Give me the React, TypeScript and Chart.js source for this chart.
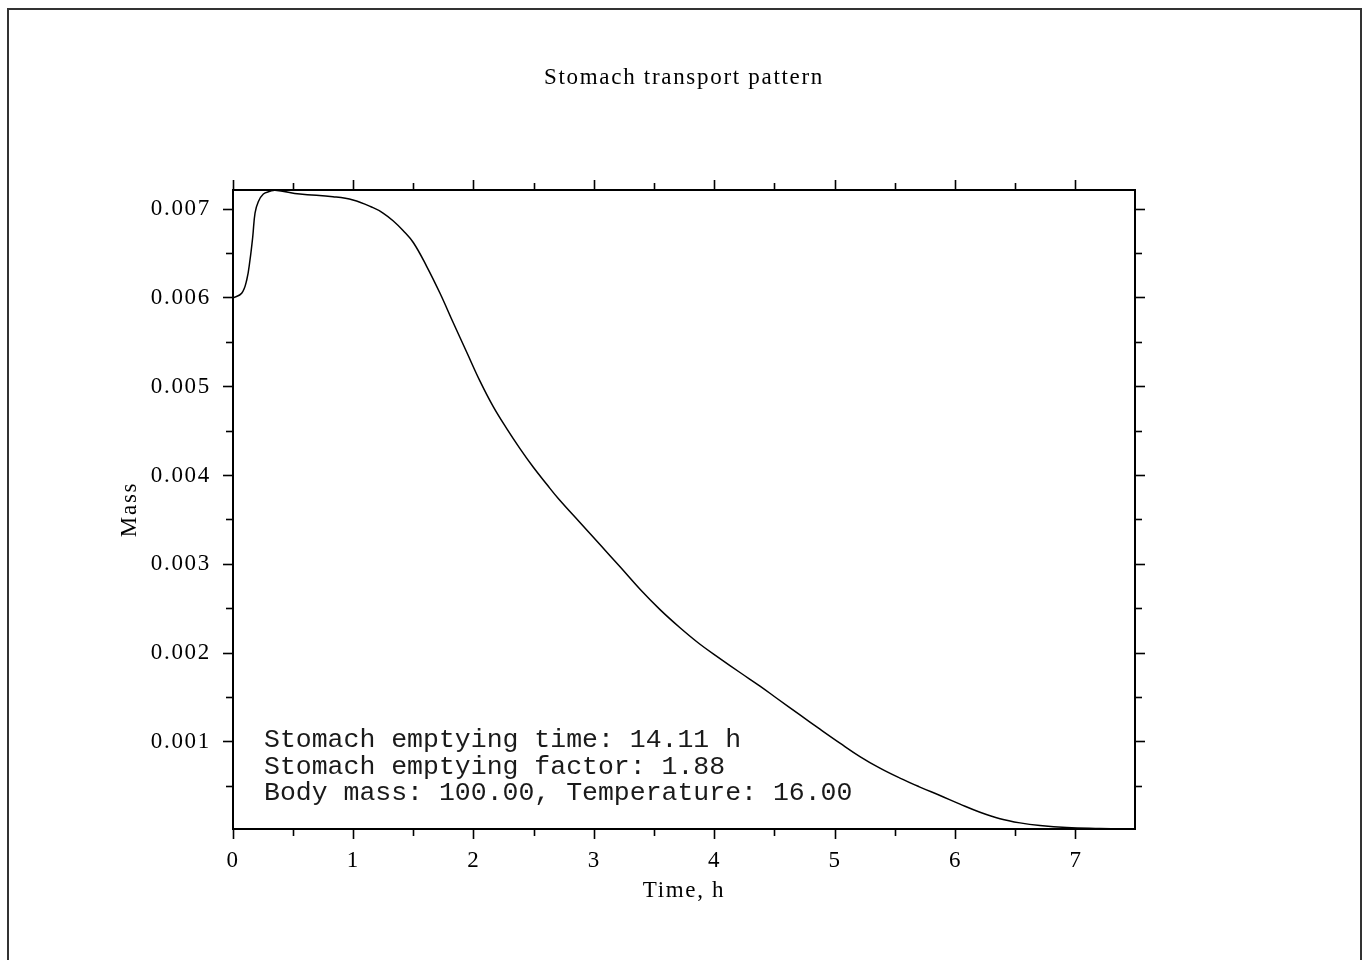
import React, { useEffect, useRef } from "react";
import { Chart, registerables } from "chart.js";

Chart.register(...registerables);

// ---- Data ----
const timeH = [
  0, 0.072, 0.114, 0.141, 0.164, 0.183, 0.21, 0.252, 0.307, 0.349, 0.556, 0.83, 0.996,
  1.163, 1.246, 1.329, 1.412, 1.497, 1.608, 1.719, 1.829, 1.941, 2.051, 2.161, 2.273,
  2.383, 2.494, 2.605, 2.701, 2.881, 3.047, 3.214, 3.38, 3.546, 3.712, 3.878, 4.044,
  4.21, 4.376, 4.515, 4.708, 4.874, 5.04, 5.206, 5.372, 5.538, 5.704, 5.871, 6.037,
  6.203, 6.369, 6.535, 6.701, 6.923, 7.199, 7.382,
];
const mass = [
  0.006, 0.006051, 0.006201, 0.006426, 0.006688, 0.006955, 0.007082, 0.007169, 0.007199,
  0.007212, 0.007169, 0.007138, 0.007101, 0.007015, 0.006955, 0.006868, 0.006758, 0.006623,
  0.006355, 0.006051, 0.005719, 0.005387, 0.005062, 0.004775, 0.004528, 0.004303, 0.004092,
  0.003901, 0.003741, 0.003471, 0.003223, 0.002972, 0.002719, 0.00249, 0.002286, 0.0021,
  0.001939, 0.001782, 0.001629, 0.001492, 0.001304, 0.001144, 0.000987, 0.000836, 0.000705,
  0.000593, 0.000492, 0.000397, 0.0003, 0.000209, 0.000136, 0.000089, 0.000059, 0.000036,
  0.000025, 0.00002,
];

const xMajorTicks = [0, 1, 2, 3, 4, 5, 6, 7];
const xMinorTicks = [0.5, 1.5, 2.5, 3.5, 4.5, 5.5, 6.5];
const yMajorTicks = [0.001, 0.002, 0.003, 0.004, 0.005, 0.006, 0.007];
const yMinorTicks = [0.0005, 0.0015, 0.0025, 0.0035, 0.0045, 0.0055, 0.0065];
const yTickLabels = ["0.001", "0.002", "0.003", "0.004", "0.005", "0.006", "0.007"];

const X_MIN = 0;
const X_MAX = 7.49;
const Y_MIN = 0.00002;
const Y_MAX = 0.007214;

const chartTitle = "Stomach transport pattern";
const xTitle = "Time, h";
const yTitle = "Mass";
const annotationLines = [
  "Stomach emptying time: 14.11 h",
  "Stomach emptying factor: 1.88",
  "Body mass: 100.00, Temperature: 16.00",
];

const SERIF = "'Liberation Serif', 'Times New Roman', serif";
const INK = "#000";

const framePlugin = {
  id: "framePlugin",
  beforeDraw(chart: any) {
    const ctx = chart.ctx;
    ctx.save();
    ctx.strokeStyle = "#333";
    ctx.lineWidth = 2;
    ctx.beginPath();
    ctx.moveTo(8, chart.height + 20);
    ctx.lineTo(8, 9);
    ctx.lineTo(1361, 9);
    ctx.lineTo(1361, chart.height + 20);
    ctx.stroke();
    ctx.restore();
    (ctx as any).letterSpacing = "1.7px";
  },
};

const annotationPlugin = {
  id: "annotationPlugin",
  afterDatasetsDraw(chart: any) {
    const ctx = chart.ctx;
    const area = chart.chartArea;
    ctx.save();
    (ctx as any).letterSpacing = "0px";
    ctx.font = "26.5px 'Liberation Mono', 'DejaVu Sans Mono', monospace";
    ctx.fillStyle = "#1a1a1a";
    ctx.textAlign = "left";
    ctx.textBaseline = "alphabetic";
    const x0 = area.left + 31;
    const baseline0 = area.bottom - 82;
    annotationLines.forEach((line, i) => {
      ctx.fillText(line, x0, baseline0 + i * 26.5);
    });
    ctx.restore();
  },
};

function majorAxis(position: string, weight: number, size: number, extra: any) {
  return {
    type: "linear",
    position,
    weight,
    afterFit: (s: any) => {
      if (position === "left" || position === "right") s.width = size;
      else s.height = size;
    },
    grid: {
      drawOnChartArea: false,
      drawTicks: true,
      tickLength: 10,
      tickWidth: 1.6,
      tickColor: INK,
    },
    border: { display: true, color: INK, width: 2 },
    ...extra,
  };
}

function minorAxis(position: string, ticks: number[], min: number, max: number) {
  return {
    type: "linear",
    position,
    weight: 0,
    min,
    max,
    afterBuildTicks: (s: any) => {
      s.ticks = ticks.map((v) => ({ value: v }));
    },
    afterFit: (s: any) => {
      if (position === "left" || position === "right") s.width = 0;
      else s.height = 0;
    },
    ticks: { display: false, autoSkip: false },
    grid: {
      drawOnChartArea: false,
      drawTicks: true,
      tickLength: 7,
      tickWidth: 1.6,
      tickColor: INK,
    },
    border: { display: false },
  };
}

export default function App() {
  const canvasRef = useRef<HTMLCanvasElement | null>(null);

  useEffect(() => {
    const canvas = canvasRef.current;
    if (!canvas) return;
    const points = timeH.map((t, i) => ({ x: t, y: mass[i] }));

    const chart = new Chart(canvas, {
      type: "line",
      data: {
        datasets: [
          {
            data: points,
            borderColor: INK,
            borderWidth: 1.5,
            pointRadius: 0,
            fill: false,
            tension: 0.4,
          } as any,
        ],
      },
      options: {
        animation: false,
        responsive: false,
        devicePixelRatio: 1,
        layout: { padding: 0 },
        plugins: {
          legend: { display: false },
          tooltip: { enabled: false },
          title: {
            display: true,
            text: chartTitle,
            color: INK,
            font: { family: SERIF, size: 23, weight: "normal" },
            padding: { top: 64, bottom: 8.4 },
          },
        },
        scales: {
          x: majorAxis("bottom", 1, 131, {
            min: X_MIN,
            max: X_MAX,
            afterBuildTicks: (s: any) => {
              s.ticks = xMajorTicks.map((v) => ({ value: v }));
            },
            ticks: {
              font: { family: SERIF, size: 23 },
              color: INK,
              padding: 8,
              maxRotation: 0,
              autoSkip: false,
              callback: (v: any) => String(v),
            },
            title: {
              display: true,
              text: xTitle,
              color: INK,
              font: { family: SERIF, size: 23 },
              padding: { top: 0, bottom: 55 },
            },
          }),
          xMinor: minorAxis("bottom", xMinorTicks, X_MIN, X_MAX),
          x2: majorAxis("top", 1, 90, {
            min: X_MIN,
            max: X_MAX,
            afterBuildTicks: (s: any) => {
              s.ticks = xMajorTicks.map((v) => ({ value: v }));
            },
            ticks: { display: false, autoSkip: false },
          }),
          x2Minor: minorAxis("top", xMinorTicks, X_MIN, X_MAX),
          y: majorAxis("left", 1, 233, {
            min: Y_MIN,
            max: Y_MAX,
            afterBuildTicks: (s: any) => {
              s.ticks = yMajorTicks.map((v) => ({ value: v }));
            },
            ticks: {
              font: { family: SERIF, size: 23 },
              color: INK,
              padding: 12,
              autoSkip: false,
              callback: (v: any) => {
                const i = yMajorTicks.findIndex((t) => Math.abs(t - v) < 1e-9);
                return i >= 0 ? yTickLabels[i] : "";
              },
            },
            title: {
              display: true,
              text: yTitle,
              color: INK,
              font: { family: SERIF, size: 23 },
              padding: { top: 116, bottom: 0 },
            },
          }),
          yMinor: minorAxis("left", yMinorTicks, Y_MIN, Y_MAX),
          y2: majorAxis("right", 1, 233, {
            min: Y_MIN,
            max: Y_MAX,
            afterBuildTicks: (s: any) => {
              s.ticks = yMajorTicks.map((v) => ({ value: v }));
            },
            ticks: { display: false, autoSkip: false },
          }),
          y2Minor: minorAxis("right", yMinorTicks, Y_MIN, Y_MAX),
        } as any,
      } as any,
      plugins: [framePlugin, annotationPlugin],
    });

    return () => chart.destroy();
  }, []);

  return (
    <div
      style={{
        position: "fixed",
        left: 0,
        top: 0,
        width: 1368,
        height: 960,
        background: "#fff",
      }}
    >
      <canvas ref={canvasRef} width={1368} height={960} style={{ display: "block" }} />
    </div>
  );
}
